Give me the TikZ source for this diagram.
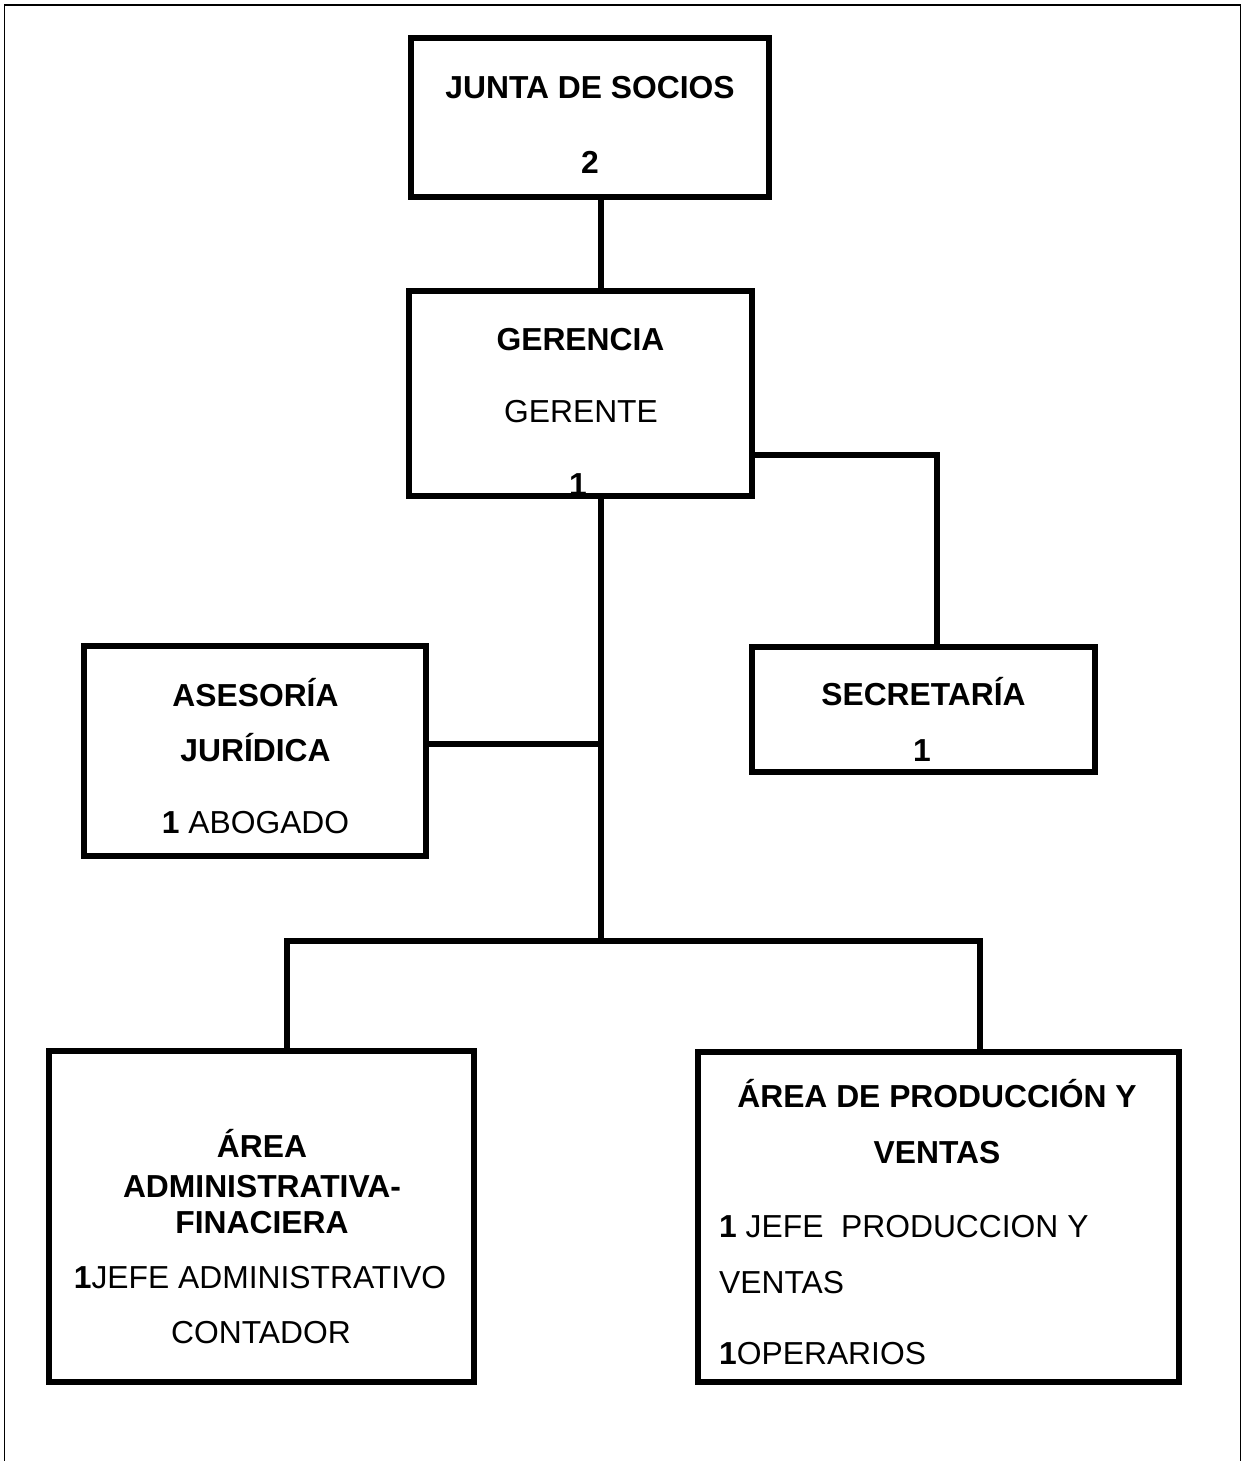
\documentclass[tikz,border=0pt]{standalone}
\usepackage{fontspec}
\setmainfont{Liberation Sans}
\begin{document}
\begin{tikzpicture}[x=1pt,y=-1pt,
  orgbox/.style={draw=black,line width=6pt,rectangle,inner sep=0pt},
  conn/.style={draw=black,line width=6pt,line join=miter},
  txt/.style={inner sep=0pt,anchor=base,font=\fontsize{31.8pt}{38pt}\selectfont},
  txtl/.style={inner sep=0pt,anchor=base west,font=\fontsize{31.8pt}{38pt}\selectfont}]
\useasboundingbox (0,0) rectangle (1245,1461);
% outer frame (open at the bottom)
\draw[line width=1.5pt] (4.5,1470) -- (4.5,5) -- (1240.5,5) -- (1240.5,1470);

% boxes
\node[orgbox,minimum width=358pt,minimum height=159pt] (junta) at (590,117.5) {};
\node[orgbox,minimum width=343pt,minimum height=205pt] (gerencia) at (580.5,393.5) {};
\node[orgbox,minimum width=342pt,minimum height=210pt] (asesoria) at (255,751) {};
\node[orgbox,minimum width=343pt,minimum height=125pt] (secretaria) at (923.5,709.5) {};
\node[orgbox,minimum width=425pt,minimum height=331pt] (admin) at (261.5,1216.5) {};
\node[orgbox,minimum width=481pt,minimum height=330pt] (prod) at (938.5,1217) {};

% junction coordinates
\coordinate (trunk) at (601,941);
\coordinate (asej) at (601,744);
\coordinate (secj) at (937,455);
\coordinate (bl) at (287,941);
\coordinate (br) at (980,941);

% connectors
\draw[conn] (junta.south -| trunk) -- (gerencia.north -| trunk);
\draw[conn] (gerencia.south -| trunk) -- (trunk);
\draw[conn] (asesoria.east |- asej) -- (asej);
\draw[conn] (gerencia.east |- secj) -- (secj) -- (secretaria.north -| secj);
\draw[conn] (admin.north -| bl) -- (bl) -- (br) -- (prod.north -| br);

% texts
\node[txt] (juntaA) at (590,98.4) {\bfseries JUNTA DE SOCIOS};
\node[txt] (juntaB) at (590,173.4) {\bfseries 2};

\node[txt] (gerA) at (580.5,350.4) {\bfseries GERENCIA};
\node[txt] (gerB) at (581,422.4) {GERENTE};
\node[txt] (gerC) at (578,495) {\bfseries 1};

\node[txt] (aseA) at (255.5,706.4) {\bfseries ASESORÍA};
\node[txt] (aseB) at (255.5,761.4) {\bfseries JURÍDICA};
\node[txt] (aseC) at (255.5,833.4) {{\bfseries 1} ABOGADO};

\node[txt] (secA) at (923.5,705.4) {\bfseries SECRETARÍA};
\node[txt] (secB) at (922,761.4) {\bfseries 1};

\node[txt] (admA) at (262,1157.4) {\bfseries ÁREA};
\node[txt] (admB) at (262,1197.4) {\bfseries ADMINISTRATIVA-};
\node[txt] (admC) at (262,1233.4) {\bfseries FINACIERA};
\node[txt] (admD) at (260,1288.4) {{\bfseries 1}JEFE ADMINISTRATIVO};
\node[txt] (admE) at (261,1343.4) {CONTADOR};

\node[txt] (proA) at (937,1107.4) {\bfseries ÁREA DE PRODUCCIÓN Y};
\node[txt] (proB) at (937,1163.4) {\bfseries VENTAS};
\node[txtl] (proC) at (719,1237.4) {{\bfseries 1} JEFE\ \ PRODUCCION Y};
\node[txtl] (proD) at (719,1293.4) {VENTAS};
\node[txtl] (proE) at (719,1364.4) {{\bfseries 1}OPERARIOS};
\end{tikzpicture}
\end{document}
